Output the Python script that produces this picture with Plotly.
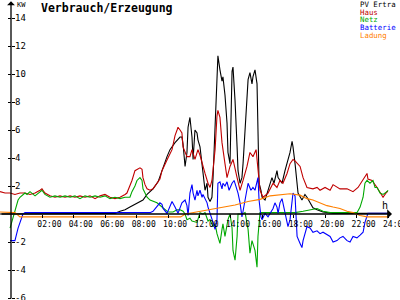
import plotly.graph_objects as go

# ---- data (hours, kW) ----
pv_h = [-0.70, 6.30, 6.62, 6.94, 7.26, 7.57, 7.89, 8.21, 8.40, 8.66, 9.04, 9.36, 9.68, 9.93, 10.12, 10.44, 10.76, 10.88,
        10.95, 11.08, 11.20, 11.27, 11.39, 11.52, 11.59, 11.71, 11.84, 11.90, 12.03, 12.16, 12.22, 12.35, 12.48, 12.54,
        12.67, 12.79, 12.86, 12.99, 13.11, 13.17, 13.30, 13.43, 13.49, 13.62, 13.75, 13.81, 13.94, 14.07, 14.13, 14.26,
        14.39, 14.45, 14.58, 14.70, 14.77, 14.90, 15.02, 15.09, 15.21, 15.34, 15.40, 15.53, 15.66, 15.72, 15.79, 15.91,
        15.98, 16.17, 16.36, 16.61, 16.74, 16.93, 17.00, 17.25, 17.44, 17.57, 17.76, 17.89, 17.95, 18.08, 18.21, 18.27,
        18.52, 18.71, 18.84, 19.03, 19.22, 19.48, 19.86, 20.50, 24.00]
pv_kw = [0.0, 0.0, 0.05, 0.2, 0.3, 0.5, 0.7, 0.9, 1.0, 1.4, 1.8, 2.3, 3.4, 4.1, 4.6, 5.1, 5.5, 5.5,
         5.0, 3.4, 4.4, 6.2, 6.9, 5.5, 3.9, 6.0, 5.8, 5.3, 4.8, 3.6, 2.6, 1.7, 2.2, 1.2,
         0.9, 1.2, 2.6, 5.8, 9.5, 11.3, 10.3, 9.5, 9.8, 8.5, 6.5, 4.4, 3.6, 10.2, 10.5, 8.1,
         4.8, 3.1, 2.2, 2.6, 3.6, 5.8, 8.1, 9.6, 10.1, 9.3, 9.8, 10.3, 9.3, 4.6, 2.2, 1.7,
         1.2, 1.0, 1.7, 2.6, 2.2, 3.1, 2.6, 2.2, 3.1, 3.6, 4.4, 5.2, 4.8, 3.6, 1.9, 1.5,
         1.0, 1.4, 1.2, 0.8, 0.45, 0.3, 0.15, 0.05, 0.05]

haus_h = [-0.70, -0.38, -0.06, 0.25, 0.57, 0.89, 1.21, 1.53, 1.85, 1.97, 2.16, 2.48, 2.80, 3.12, 3.44, 3.76, 4.07, 4.39,
          4.71, 5.03, 5.35, 5.67, 5.98, 6.30, 6.62, 6.94, 7.26, 7.38, 7.70, 7.89, 8.21, 8.34, 8.40, 8.53, 8.66, 8.85,
          9.04, 9.29, 9.48, 9.61, 9.80, 9.99, 10.25, 10.44, 10.57, 10.63, 10.76, 10.88, 10.95, 11.08, 11.20, 11.39,
          11.52, 11.71, 11.90, 12.03, 12.16, 12.35, 12.54, 12.67, 12.79, 12.99, 13.11, 13.17, 13.30, 13.43, 13.62,
          13.75, 13.94, 14.13, 14.39, 14.58, 14.77, 15.02, 15.21, 15.40, 15.60, 15.72, 15.85, 16.04, 16.36, 16.68,
          16.93, 17.12, 17.31, 17.57, 17.76, 17.95, 18.08, 18.40, 18.59, 18.84, 19.22, 19.48, 19.67, 19.99, 20.31,
          20.50, 20.94, 21.39, 21.77, 22.09, 22.41, 22.66, 22.72, 22.98, 23.30, 23.49, 23.68, 23.93, 24.00]
haus_kw = [1.6, 1.5, 1.5, 1.4, 1.5, 1.5, 1.4, 1.5, 1.7, 1.8, 1.5, 1.3, 1.2, 1.3, 1.2, 1.3, 1.2, 1.3,
           1.2, 1.3, 1.1, 1.3, 1.4, 1.2, 1.1, 1.2, 1.4, 1.5, 2.4, 3.1, 3.3, 3.2, 2.6, 2.1, 1.8, 1.7,
           1.8, 2.2, 2.5, 3.1, 3.6, 4.0, 4.6, 5.6, 6.0, 6.2, 6.0, 5.8, 4.8, 4.4, 4.1, 4.1,
           4.6, 3.9, 4.6, 4.2, 3.6, 2.9, 2.2, 1.9, 2.4, 4.6, 7.0, 7.4, 6.9, 5.1, 3.6,
           2.6, 3.4, 3.9, 2.6, 1.7, 2.4, 3.4, 4.4, 4.1, 4.6, 3.4, 1.7, 1.2, 1.5, 2.2,
           1.9, 2.4, 2.2, 2.9, 3.6, 3.9, 3.8, 3.4, 2.6, 1.9, 1.8, 1.9, 1.7, 1.9, 1.7,
           2.1, 1.8, 1.8, 1.6, 1.9, 2.5, 2.9, 2.5, 2.4, 1.9, 1.5, 1.2, 1.6, 1.6]

netz_h = [-0.06, 0.13, 0.25, 0.45, 0.57, 0.70, 0.89, 1.02, 1.21, 1.53, 1.85, 1.97, 2.16, 2.48, 2.80, 3.12, 3.44, 3.76,
          4.07, 4.39, 4.71, 5.03, 5.35, 5.67, 5.98, 6.30, 6.62, 6.94, 7.26, 7.57, 7.70, 7.89, 8.02, 8.21, 8.34, 8.40,
          8.66, 8.85, 9.29, 9.68, 9.99, 10.31, 10.57, 10.76, 10.95, 11.08, 11.20, 11.39, 11.52, 11.84, 12.03, 12.22,
          12.35, 12.54, 12.67, 12.86, 12.99, 13.11, 13.30, 13.43, 13.49, 13.62, 13.75, 13.81, 13.94, 14.07, 14.13,
          14.26, 14.39, 14.45, 14.70, 14.90, 15.09, 15.21, 15.34, 15.40, 15.53, 15.66, 15.72, 15.85, 16.04, 16.49,
          17.00, 17.57, 18.08, 18.59, 19.03, 19.48, 19.86, 20.31, 20.94, 21.58, 22.02, 22.22, 22.41, 22.53, 22.66,
          22.85, 23.04, 23.17, 23.30, 23.49, 23.68, 23.93, 24.00]
netz_kw = [-1.0, -0.2, 0.3, 1.0, 1.2, 1.3, 1.5, 1.4, 1.6, 1.3, 1.6, 1.7, 1.4, 1.2, 1.3, 1.2, 1.3, 1.2,
           1.3, 1.1, 1.3, 1.2, 1.3, 1.2, 1.3, 1.1, 1.2, 1.1, 1.2, 1.2, 1.6, 2.0, 2.4, 2.6, 2.4, 1.8,
           1.2, 1.0, 0.8, 0.4, 0.15, 0.15, 0.3, 0.3, 0.2, 0.0, -0.4, -0.3, -0.5, -0.6, 0.1, 0.0,
           0.1, -0.5, -0.4, -0.9, -0.7, -1.4, -2.1, -1.1, -0.7, -1.6, -0.8, -0.4, 0.0, -1.0, -2.6,
           -3.3, -1.6, 0.0, 0.0, 0.1, -1.1, -2.8, -1.9, -2.1, -2.6, -3.8, -1.6, 0.1, 0.1, 0.15,
           0.1, 0.15, 0.1, 0.2, 0.3, 0.4, 0.2, 0.1, 0.1, 0.1, 0.1, 0.5, 1.2, 2.2, 2.4,
           2.2, 2.4, 1.9, 1.9, 1.5, 1.4, 1.6, 1.7]

batt_h = [-0.06, 0.25, 0.45, 0.76, 0.89, 8.85, 9.04, 9.29, 9.48, 9.61, 9.68, 9.93, 10.12, 10.25, 10.44, 10.63, 10.88,
          11.08, 11.20, 11.27, 11.39, 11.52, 11.59, 11.71, 11.84, 11.90, 12.03, 12.16, 12.22, 12.48, 12.54, 12.67,
          12.86, 12.99, 13.11, 13.17, 13.30, 13.43, 13.49, 13.62, 13.75, 13.88, 14.07, 14.20, 14.39, 14.45, 14.58,
          14.70, 14.77, 14.90, 15.02, 15.09, 15.27, 15.40, 15.53, 15.66, 15.72, 15.79, 15.91, 15.98, 16.17, 16.36,
          16.49, 16.68, 16.80, 16.93, 17.00, 17.12, 17.25, 17.31, 17.44, 17.57, 17.63, 17.76, 17.89, 17.95, 18.08,
          18.21, 18.40, 18.52, 18.59, 18.71, 18.84, 19.03, 19.22, 19.48, 19.67, 19.86, 20.11, 20.31, 20.50, 20.75,
          20.94, 21.13, 21.39, 21.58, 21.77, 22.02, 22.22, 22.41, 22.53, 22.66, 22.72, 24.00]
batt_kw = [-1.9, -1.9, -1.0, 0.0, 0.1, 0.1, 0.2, 0.5, 0.8, 0.7, 0.4, 0.05, 0.5, 0.9, 0.5, 0.05, 0.8,
           1.0, 0.6, -0.1, 1.5, 2.1, 1.5, 1.0, 1.7, 1.3, 1.7, 1.2, 1.4, 0.8, 0.5, 0.1,
           -0.6, -1.1, -0.4, 2.2, 2.3, 1.8, 2.2, 2.0, 2.3, 1.7, 2.2, 2.4, 1.8, 1.5, 0.8,
           -0.2, 0.2, 1.0, 1.7, 2.2, 1.7, 1.9, 1.7, 2.2, 2.6, 1.0, -0.2, -0.4, 0.05, -0.2,
           0.05, 0.4, 0.8, 0.5, 0.05, 0.8, 1.1, 0.8, 0.1, -0.6, -0.9, -0.4, 1.2, 1.5, 1.3,
           -1.6, -2.1, -2.4, -1.9, -1.4, -0.9, -1.0, -1.3, -1.2, -1.4, -1.3, -1.5, -1.6, -2.0, -1.9,
           -1.7, -1.6, -1.9, -2.0, -1.6, -1.7, -1.5, -1.3, -0.6, -0.2, 0.05, 0.05]

ladung_h = [-0.70, 0.13, 0.25, 0.57, 10.80, 11.10, 11.84, 12.67, 13.49, 14.26, 15.09, 15.85, 16.49, 17.12, 17.76,
            18.40, 18.84, 19.22, 19.67, 20.11, 20.50, 20.94, 21.39, 21.77, 22.22, 22.66, 24.00]
ladung_kw = [0.15, 0.15, 0.1, -0.2, -0.2, 0.0, 0.15, 0.3, 0.45, 0.65, 0.9, 1.05, 1.3, 1.4, 1.45,
             1.35, 1.1, 1.0, 0.8, 0.6, 0.5, 0.4, 0.2, 0.1, -0.1, -0.2, -0.2]

series_names = ["PV Ertra", "Haus", "Netz", "Batterie", "Ladung"]
series_colors = ["#000000", "#c00000", "#00a800", "#0000ff", "#ff8000"]

x_ticks = [2, 4, 6, 8, 10, 12, 14, 16, 18, 20, 22, 24]
x_labels = ["02:00", "04:00", "06:00", "08:00", "10:00", "12:00", "14:00", "16:00", "18:00", "20:00", "22:00", "24:00"]
y_ticks = [-6, -4, -2, 2, 4, 6, 8, 10, 12, 14]
y_labels = ["-6", "-4", "-2", "2", "4", "6", "8", "10", "12", "14"]

X_RANGE = [-0.70, 24.76]
Y_RANGE = [-6.14, 15.29]
W, H = 400, 300
MONO = "DejaVu Sans Mono"

fig = go.Figure()
data = [(pv_h, pv_kw), (haus_h, haus_kw), (netz_h, netz_kw), (batt_h, batt_kw), (ladung_h, ladung_kw)]
for (xs, ys), name, col in zip(data, series_names, series_colors):
    fig.add_trace(go.Scatter(x=xs, y=ys, mode="lines", name=name,
                             line=dict(color=col, width=1.1), showlegend=False,
                             hoverinfo="skip"))

def px(x):
    return x / W

def py(y):
    return 1 - y / H

ann = []
# axis arrows
ann.append(dict(x=24.25, y=0, ax=X_RANGE[0], ay=0, xref="x", yref="y", axref="x", ayref="y",
                showarrow=True, arrowhead=1, arrowsize=1, arrowwidth=1.6, arrowcolor="black", text=""))
ann.append(dict(x=0, y=15.2, ax=0, ay=Y_RANGE[0], xref="x", yref="y", axref="x", ayref="y",
                showarrow=True, arrowhead=1, arrowsize=1, arrowwidth=1.3, arrowcolor="black", text=""))
ann.append(dict(x=px(15), y=py(5.5), xref="paper", yref="paper", text="KW", showarrow=False,
                xanchor="left", yanchor="middle", font=dict(family=MONO, size=7, color="black")))
ann.append(dict(x=px(385), y=py(205), xref="paper", yref="paper", text="h", showarrow=False,
                xanchor="center", yanchor="middle", font=dict(family=MONO, size=10, color="black")))
ann.append(dict(x=px(39), y=py(7.5), xref="paper", yref="paper", text="<b>Verbrauch/Erzeugung</b>",
                showarrow=False, xanchor="left", yanchor="middle",
                font=dict(family=MONO, size=11.5, color="black")))
leg_y = [4.3, 12.0, 19.8, 27.6, 35.4]
for name, col, yy in zip(series_names, series_colors, leg_y):
    ann.append(dict(x=px(358.5), y=py(yy), xref="paper", yref="paper", text=name, showarrow=False,
                    xanchor="left", yanchor="middle", borderpad=0,
                    font=dict(family=MONO, size=7.4, color=col)))

fig.update_layout(
    width=W, height=H, margin=dict(l=0, r=0, t=0, b=0),
    paper_bgcolor="white", plot_bgcolor="white",
    annotations=ann,
    xaxis=dict(range=X_RANGE, domain=[0, 1], anchor="free", position=(H - 214) / H,
               showgrid=False, zeroline=False, showline=False,
               tickmode="array", tickvals=x_ticks, ticktext=x_labels,
               ticks="outside", ticklen=3, tickcolor="black", tickwidth=1,
               ticklabelshift=7, ticklabelstandoff=-1, ticklabeloverflow="allow",
               tickfont=dict(family=MONO, size=8, color="black"), automargin=False),
    yaxis=dict(range=Y_RANGE, domain=[0, 1], anchor="free", position=11 / W,
               showgrid=False, zeroline=False, showline=False,
               tickmode="array", tickvals=y_ticks, ticktext=y_labels,
               ticks="outside", ticklen=3, tickcolor="black", tickwidth=1,
               ticklabelposition="inside", ticklabeloverflow="allow",
               minor=dict(tickmode="array", tickvals=y_ticks, ticks="inside", ticklen=3,
                          tickcolor="black", tickwidth=1),
               tickfont=dict(family=MONO, size=9, color="black"), automargin=False),
)

fig.write_html("out.html")
